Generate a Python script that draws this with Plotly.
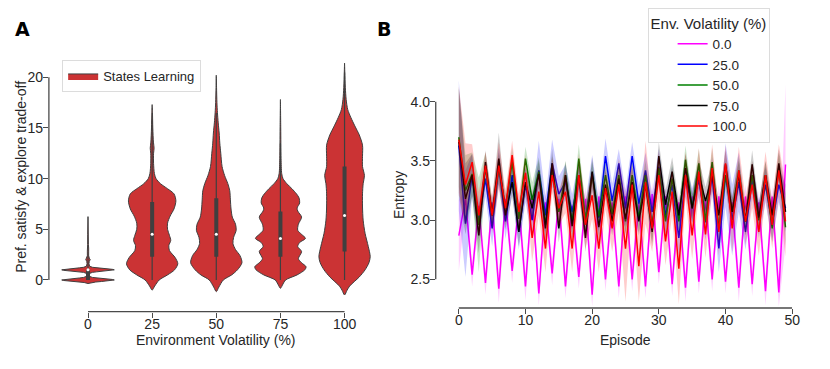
import plotly.graph_objects as go

# ---- panel A: violin outlines (value, half-width in category units)
categories = ["0", "25", "50", "75", "100"]

v0_y = [-0.35, -0.25, -0.2, -0.15, -0.1, -0.05, 0.0, 0.05, 0.1, 0.15, 0.2, 0.25, 0.35, 0.5, 0.65,
        0.75, 0.8, 0.85, 0.9, 0.95, 1.0, 1.05, 1.1, 1.15, 1.2, 1.25, 1.35, 1.6, 1.85, 2.0, 2.15,
        2.4, 2.85, 3.0, 3.15, 3.5, 4.5, 5.5, 6.25]
v0_w = [0, 0.06, 0.12, 0.21, 0.30, 0.38, 0.41, 0.38, 0.30, 0.21, 0.13, 0.07, 0.025, 0.015, 0.025,
        0.07, 0.13, 0.21, 0.30, 0.38, 0.41, 0.38, 0.30, 0.21, 0.13, 0.07, 0.025, 0.015, 0.02, 0.035, 0.02,
        0.01, 0.01, 0.015, 0.01, 0.006, 0.005, 0.004, 0]

v25_y = [-1.0, -0.6, 0.0, 0.5, 1.0, 1.6, 2.2, 2.9, 3.4, 3.9, 4.4, 5.0, 5.6, 6.3, 7.0, 7.8, 8.5,
         9.0, 9.5, 10.0, 10.5, 11.5, 12.5, 13.0, 13.6, 15.0, 16.5, 17.3]
v25_w = [0, 0.04, 0.11, 0.24, 0.35, 0.40, 0.36, 0.27, 0.26, 0.29, 0.27, 0.24, 0.24, 0.28, 0.34, 0.37, 0.34,
         0.24, 0.13, 0.06, 0.035, 0.022, 0.022, 0.03, 0.02, 0.01, 0.005, 0]

v50_y = [-1.15, -0.7, 0.0, 0.5, 1.0, 1.7, 2.4, 3.0, 3.6, 4.2, 4.9, 5.5, 6.2, 7.0, 7.9, 8.8, 9.5,
         10.3, 11.2, 12.5, 13.5, 14.5, 15.5, 16.5, 17.5, 19.0, 20.2]
v50_w = [0, 0.04, 0.11, 0.24, 0.33, 0.40, 0.37, 0.30, 0.26, 0.27, 0.31, 0.30, 0.25, 0.23, 0.22, 0.21, 0.18,
         0.13, 0.09, 0.07, 0.055, 0.045, 0.03, 0.018, 0.01, 0.004, 0]

v75_y = [-0.82, -0.4, 0.0, 0.5, 1.0, 1.3, 1.7, 2.1, 2.8, 3.3, 3.7, 4.1, 4.5, 4.9, 5.5, 6.2, 6.8,
         7.1, 7.6, 8.1, 8.5, 9.0, 9.5, 10.0, 10.5, 12.0, 15.0, 17.8]
v75_w = [0, 0.04, 0.08, 0.26, 0.38, 0.40, 0.33, 0.28, 0.33, 0.27, 0.30, 0.39, 0.33, 0.27, 0.28, 0.33, 0.27,
         0.26, 0.30, 0.29, 0.25, 0.18, 0.10, 0.04, 0.02, 0.01, 0.005, 0]

v100_y = [-1.48, -1.0, -0.6, 0.3, 1.0, 1.7, 2.3, 3.3, 4.6, 5.9, 7.2, 8.5, 9.5, 10.3, 11.2, 12.2,
          13.3, 14.3, 15.2, 16.0, 16.8, 17.8, 19.0, 20.5, 21.4]
v100_w = [0, 0.04, 0.08, 0.23, 0.32, 0.38, 0.40, 0.37, 0.32, 0.29, 0.28, 0.28, 0.29, 0.31, 0.28, 0.28,
          0.28, 0.23, 0.16, 0.10, 0.05, 0.025, 0.012, 0.004, 0]

box_q1 = [0.0, 2.3, 2.3, 2.3, 2.8]
box_q3 = [1.0, 7.7, 8.05, 6.75, 11.2]
box_med = [1.0, 4.5, 4.5, 4.1, 6.35]
whisk_lo = [0.0, 0.0, 0.0, 0.0, 0.0]
whisk_hi = [2.5, 15.8, 16.5, 13.5, 20.5]

# ---- panel B: mean entropy per episode and CI half-width
episodes = list(range(50))
vol_names = ["0.0", "25.0", "50.0", "75.0", "100.0"]

ent_0 = [2.87, 3.18, 2.54, 3.12, 2.47, 3.15, 2.42, 3.18, 2.57, 3.14,
         2.44, 3.20, 2.38, 3.15, 2.55, 3.18, 2.44, 3.12, 2.52, 3.18,
         2.37, 3.20, 2.50, 3.15, 2.44, 3.20, 2.50, 3.15, 2.44, 3.22,
         2.56, 3.20, 2.46, 3.15, 2.43, 3.20, 2.48, 3.18, 2.50, 3.20,
         2.48, 3.15, 2.43, 3.20, 2.46, 3.15, 2.40, 3.20, 2.39, 3.47]
ent_25 = [3.63, 2.97, 3.38, 2.99, 3.35, 2.93, 3.46, 2.99, 3.38, 2.90,
          3.30, 3.00, 3.42, 3.04, 3.48, 3.22, 3.32, 3.07, 3.36, 3.01,
          3.40, 3.02, 3.54, 3.16, 3.48, 3.10, 3.54, 3.14, 3.42, 3.07,
          3.45, 3.04, 3.30, 2.85, 3.35, 3.12, 3.34, 2.98, 3.38, 2.76,
          3.38, 3.00, 3.32, 2.90, 3.34, 3.00, 3.30, 2.97, 3.30, 3.10]
ent_50 = [3.70, 3.25, 3.39, 2.96, 3.45, 3.04, 3.45, 3.10, 3.49, 3.01,
          3.52, 3.17, 3.41, 2.96, 3.44, 3.07, 3.38, 2.98, 3.52, 3.00,
          3.38, 3.03, 3.38, 3.05, 3.38, 2.99, 3.38, 3.02, 3.38, 2.93,
          3.44, 2.99, 3.35, 2.99, 3.51, 3.10, 3.48, 2.99, 3.49, 2.93,
          3.38, 3.07, 3.42, 2.99, 3.38, 3.00, 3.38, 2.93, 3.45, 2.94]
ent_75 = [3.66, 3.18, 3.38, 2.87, 3.49, 3.04, 3.52, 3.04, 3.32, 2.90,
          3.32, 3.10, 3.39, 2.93, 3.48, 2.93, 3.38, 2.95, 3.38, 2.85,
          3.41, 2.94, 3.30, 2.99, 3.35, 3.01, 3.32, 2.99, 3.30, 2.90,
          3.54, 3.13, 3.41, 3.04, 3.44, 3.10, 3.39, 3.16, 3.38, 3.04,
          3.47, 3.07, 3.38, 2.99, 3.47, 3.02, 3.38, 3.04, 3.48, 3.07]
ent_100 = [3.68, 3.30, 3.49, 3.04, 3.46, 3.04, 3.46, 3.10, 3.55, 3.07,
           3.40, 2.85, 3.24, 2.76, 3.38, 3.10, 3.24, 2.76, 3.38, 2.96,
           3.21, 2.76, 3.27, 2.93, 3.30, 2.76, 3.30, 2.61, 3.32, 2.93,
           3.38, 2.82, 3.24, 2.59, 3.38, 2.87, 3.41, 2.88, 3.44, 2.90,
           3.48, 2.93, 3.42, 2.99, 3.30, 2.90, 3.38, 2.96, 3.42, 2.99]

ci_0 = [0.30, 0.10, 0.10, 0.10, 0.10, 0.10, 0.12, 0.10, 0.10, 0.10,
        0.12, 0.10, 0.10, 0.10, 0.10, 0.10, 0.10, 0.10, 0.10, 0.10,
        0.10, 0.10, 0.10, 0.10, 0.10, 0.10, 0.10, 0.10, 0.10, 0.10,
        0.10, 0.10, 0.10, 0.10, 0.12, 0.10, 0.10, 0.10, 0.10, 0.10,
        0.10, 0.10, 0.12, 0.10, 0.10, 0.10, 0.12, 0.10, 0.12, 0.68]
ci_25 = [0.55, 0.45, 0.18, 0.15, 0.15, 0.15, 0.15, 0.15, 0.15, 0.15,
         0.15, 0.15, 0.25, 0.15, 0.20, 0.15, 0.15, 0.15, 0.15, 0.15,
         0.15, 0.15, 0.15, 0.15, 0.12, 0.15, 0.12, 0.15, 0.15, 0.15,
         0.15, 0.15, 0.15, 0.15, 0.15, 0.15, 0.15, 0.15, 0.15, 0.20,
         0.27, 0.30, 0.25, 0.15, 0.15, 0.15, 0.15, 0.15, 0.15, 0.20]
ci_50 = [0.42, 0.30, 0.18, 0.40, 0.12, 0.12, 0.12, 0.12, 0.12, 0.12,
         0.10, 0.15, 0.12, 0.12, 0.10, 0.12, 0.12, 0.12, 0.12, 0.12,
         0.12, 0.12, 0.12, 0.12, 0.12, 0.12, 0.12, 0.12, 0.12, 0.12,
         0.12, 0.12, 0.12, 0.12, 0.12, 0.12, 0.12, 0.12, 0.12, 0.12,
         0.12, 0.12, 0.12, 0.12, 0.12, 0.12, 0.12, 0.12, 0.12, 0.15]
ci_75 = [0.45, 0.30, 0.18, 0.15, 0.10, 0.12, 0.22, 0.12, 0.12, 0.12,
         0.12, 0.12, 0.12, 0.12, 0.12, 0.12, 0.12, 0.12, 0.12, 0.12,
         0.12, 0.12, 0.12, 0.12, 0.12, 0.12, 0.12, 0.12, 0.12, 0.12,
         0.12, 0.12, 0.12, 0.12, 0.12, 0.12, 0.12, 0.12, 0.12, 0.12,
         0.12, 0.12, 0.12, 0.12, 0.12, 0.12, 0.12, 0.12, 0.12, 0.15]
ci_100 = [0.45, 0.35, 0.15, 0.20, 0.12, 0.15, 0.20, 0.15, 0.12, 0.15,
          0.15, 0.20, 0.20, 0.20, 0.15, 0.15, 0.18, 0.20, 0.18, 0.20,
          0.20, 0.20, 0.18, 0.20, 0.22, 0.45, 0.18, 0.30, 0.35, 0.20,
          0.20, 0.20, 0.20, 0.30, 0.20, 0.20, 0.20, 0.20, 0.20, 0.20,
          0.15, 0.20, 0.20, 0.20, 0.20, 0.20, 0.20, 0.20, 0.22, 0.30]

FONT = "Liberation Sans, Arial, sans-serif"
TXT = "#262626"
AX = "#4a4a4a"
VIOLIN_RED = "#cb3334"

# the page body keeps its 8px margin: keep the figure a little smaller than the window so
# nothing overflows, and lay everything out in window pixels
W, H, OFF = 810, 345, 8


def px(x):
    return (x - OFF) / W


def py(y):
    return 1 - (y - OFF) / H


fig = go.Figure()

profiles = [(v0_y, v0_w), (v25_y, v25_w), (v50_y, v50_w), (v75_y, v75_w), (v100_y, v100_w)]
for i, (ys, ws) in enumerate(profiles):
    xs = [i + w for w in ws] + [i - w for w in ws[::-1]]
    yy = ys + ys[::-1]
    fig.add_trace(go.Scatter(x=xs, y=yy, mode="lines", fill="toself", fillcolor=VIOLIN_RED,
                             line=dict(color="#3f3f3f", width=1, shape="linear" if i == 0 else "spline", smoothing=0.8),
                             name="States Learning", showlegend=(i == 0), legend="legend",
                             xaxis="x", yaxis="y", hoverinfo="skip"))
    fig.add_trace(go.Scatter(x=[i, i], y=[whisk_lo[i], whisk_hi[i]], mode="lines",
                             line=dict(color="#3f3f3f", width=1.2), showlegend=False,
                             xaxis="x", yaxis="y", hoverinfo="skip"))
    fig.add_trace(go.Scatter(x=[i, i], y=[box_q1[i], box_q3[i]], mode="lines",
                             line=dict(color="#3f3f3f", width=4), showlegend=False,
                             xaxis="x", yaxis="y", hoverinfo="skip"))
    fig.add_trace(go.Scatter(x=[i], y=[box_med[i]], mode="markers",
                             marker=dict(color="white", size=3), showlegend=False,
                             xaxis="x", yaxis="y", hoverinfo="skip"))

series = [(ent_0, ci_0, "#ff00ff", "rgba(255,0,255,0.2)"),
          (ent_25, ci_25, "#0000ff", "rgba(0,0,255,0.2)"),
          (ent_50, ci_50, "#008000", "rgba(0,128,0,0.2)"),
          (ent_75, ci_75, "#000000", "rgba(0,0,0,0.2)"),
          (ent_100, ci_100, "#ff0000", "rgba(255,0,0,0.2)")]
for name, (m, c, col, fcol) in zip(vol_names, series):
    upper = [a + b for a, b in zip(m, c)]
    lower = [a - b for a, b in zip(m, c)]
    fig.add_trace(go.Scatter(x=episodes + episodes[::-1], y=upper + lower[::-1], fill="toself",
                             fillcolor=fcol, line=dict(width=0), mode="lines", showlegend=False,
                             xaxis="x2", yaxis="y2", hoverinfo="skip"))
    fig.add_trace(go.Scatter(x=episodes, y=m, mode="lines", line=dict(color=col, width=1.5),
                             name=name, legend="legend2", xaxis="x2", yaxis="y2"))

tick_font = dict(family=FONT, size=14, color=TXT)
title_font = dict(family=FONT, size=14, color=TXT)
axis_common = dict(showgrid=False, zeroline=False, showline=False, ticks="outside", ticklen=5,
                   tickcolor=AX, tickwidth=1.2, tickfont=tick_font)

fig.update_layout(
    width=W, height=H,
    margin=dict(l=0, r=0, t=0, b=0),
    paper_bgcolor="white", plot_bgcolor="white",
    font=dict(family=FONT, color=TXT),
    xaxis=dict(domain=[px(49.3), px(380.3)], range=[-0.61, 4.5], tickvals=[0, 1, 2, 3, 4],
               ticktext=categories, ticklabelstandoff=-6, **axis_common),
    yaxis=dict(domain=[py(311.7), py(60)], range=[-3.13, 21.7], tickvals=[0, 5, 10, 15, 20],
               ticklabelstandoff=-3, **axis_common),
    xaxis2=dict(domain=[px(440), px(800)], range=[-3.46, 50], tickvals=[0, 10, 20, 30, 40, 50],
                anchor="y2", ticklabelstandoff=-6, **axis_common),
    yaxis2=dict(domain=[py(308), py(78)], range=[2.258, 4.2], tickvals=[2.5, 3.0, 3.5, 4.0],
                tickformat=".1f", anchor="x2", ticklabelstandoff=-3, **axis_common),
    legend=dict(x=px(62.7), y=py(60), xanchor="left", yanchor="top", bgcolor="white",
                bordercolor="#dcdcdc", borderwidth=1, font=dict(family=FONT, size=13, color=TXT)),
    legend2=dict(x=px(654), y=py(8), xanchor="left", yanchor="top", bgcolor="rgba(255,255,255,0.8)",
                 bordercolor="#dcdcdc", borderwidth=1, indentation=24, tracegroupgap=0,
                 font=dict(family=FONT, size=13.5, color=TXT),
                 title=dict(text="Env. Volatility (%)", font=dict(family=FONT, size=15, color=TXT))),
    showlegend=True,
)

# trimmed spines (seaborn despine(trim=True) look)
spine = dict(color=AX, width=1.3)
fig.add_shape(type="line", xref="x domain", yref="y", x0=0, x1=0, y0=0, y1=20, line=spine)
fig.add_shape(type="line", xref="x", yref="y domain", x0=0, x1=4, y0=0, y1=0, line=spine)
fig.add_shape(type="line", xref="x2 domain", yref="y2", x0=0, x1=0, y0=2.5, y1=4.0, line=spine)
fig.add_shape(type="line", xref="x2", yref="y2 domain", x0=0, x1=50, y0=0, y1=0, line=spine)

# axis titles
for text, x, y, ang in (("Environment Volatility (%)", 218, 339.5, 0),
                        ("Episode", 631.5, 339.5, 0),
                        ("Pref. satisfy & explore trade-off", 21, 177, -90),
                        ("Entropy", 403, 195, -90)):
    fig.add_annotation(text=text, xref="paper", yref="paper", x=px(x), y=py(y), textangle=ang,
                       xanchor="center", yanchor="middle", showarrow=False, font=title_font)

for label, lx in (("A", 13), ("B", 379)):
    fig.add_annotation(text="<b>%s</b>" % label, xref="paper", yref="paper", x=px(lx), y=py(29),
                       xanchor="left", yanchor="middle", showarrow=False,
                       font=dict(family="DejaVu Sans, sans-serif", size=19, color="black"))

fig.write_html("out.html")
